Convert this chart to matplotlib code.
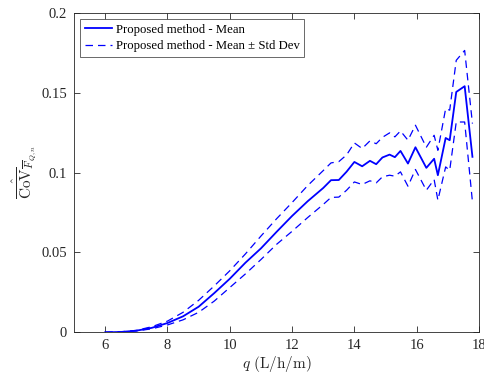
import matplotlib
matplotlib.use('Agg')
import matplotlib.pyplot as plt

plt.rcParams['font.family'] = ['Liberation Serif', 'DejaVu Serif']
plt.rcParams['mathtext.fontset'] = 'cm'

q = [6.0, 6.5, 7.0, 7.5, 8.0, 8.5, 9.0, 9.5, 10.0, 10.5, 11.0, 11.5, 12.0, 12.5,
     13.0, 13.25, 13.5, 13.75, 14.0, 14.25, 14.5, 14.7, 14.9, 15.13, 15.3, 15.48,
     15.72, 15.96, 16.31, 16.56, 16.68, 16.93, 17.06, 17.27, 17.54, 17.79]

cov_mean = [0.0, 0.0002, 0.001, 0.0028, 0.0058, 0.0100, 0.0160, 0.0245, 0.0335,
            0.0435, 0.0525, 0.0628, 0.0728, 0.0820, 0.0903, 0.0952, 0.0953, 0.1005,
            0.1066, 0.1039, 0.1073, 0.1052, 0.1094, 0.1112, 0.1096, 0.1135, 0.1056,
            0.1158, 0.1029, 0.1086, 0.0983, 0.1216, 0.1202, 0.1504, 0.1540, 0.1098]

cov_upper = [0.0, 0.0003, 0.0012, 0.0035, 0.0070, 0.0125, 0.0200, 0.0290, 0.0385,
             0.0490, 0.0602, 0.0710, 0.0812, 0.0918, 0.1012, 0.1060, 0.1068, 0.1110,
             0.1185, 0.1150, 0.1198, 0.1180, 0.1220, 0.1248, 0.1223, 0.1260, 0.1202,
             0.1296, 0.1158, 0.1233, 0.1139, 0.1400, 0.1390, 0.1702, 0.1764, 0.1306]

cov_lower = [0.0, 0.0002, 0.0008, 0.0022, 0.0046, 0.0078, 0.0125, 0.0195, 0.0280,
             0.0365, 0.0455, 0.0550, 0.0632, 0.0718, 0.0800, 0.0844, 0.0846, 0.0889,
             0.0941, 0.0925, 0.0948, 0.0935, 0.0973, 0.0983, 0.0977, 0.1004, 0.0914,
             0.1019, 0.0889, 0.0956, 0.0827, 0.1035, 0.1014, 0.1316, 0.1316, 0.0816]

fig = plt.figure(figsize=(4.85, 3.78), dpi=100)
ax = fig.add_axes([0.1526, 0.1209, 0.835, 0.8455])

ax.plot(q, cov_mean, '-', color='#0000ff', lw=1.3, label='Proposed method - Mean')
ax.plot(q, cov_upper, '--', color='#0000ff', lw=0.9, dashes=(6, 4),
        label='Proposed method - Mean \u00b1 Std Dev')
ax.plot(q, cov_lower, '--', color='#0000ff', lw=0.9, dashes=(6, 4))

ax.set_xlim(5, 18)
ax.set_ylim(0, 0.2)
ax.set_xticks([6, 8, 10, 12, 14, 16, 18])
ax.set_yticks([0, 0.05, 0.1, 0.15, 0.2])
ax.set_yticklabels(['0', '0.05', '0.1', '0.15', '0.2'])

ax.tick_params(direction='in', top=True, right=True, length=4, width=0.6,
               labelsize=10.5, colors='#262626', pad=5)
for s in ax.spines.values():
    s.set_linewidth(0.6)
    s.set_color('#262626')

ax.set_xlabel(r'$q\ \mathrm{(L/h/m)}$', fontsize=11, color='#262626', labelpad=1)
ax.set_ylabel(r'$\hat{\overline{\mathrm{CoV}}}_{\overline{F}_{Q,n}}$', fontsize=11,
              color='#262626', labelpad=2)

leg = ax.legend(loc='upper left', fontsize=9.2, frameon=True, fancybox=False,
                edgecolor='#262626', borderpad=0.35, handlelength=2.1,
                labelspacing=0.35, borderaxespad=0.5, handletextpad=0.3)
leg.get_frame().set_linewidth(0.6)

fig.savefig('out.png', dpi=100)
